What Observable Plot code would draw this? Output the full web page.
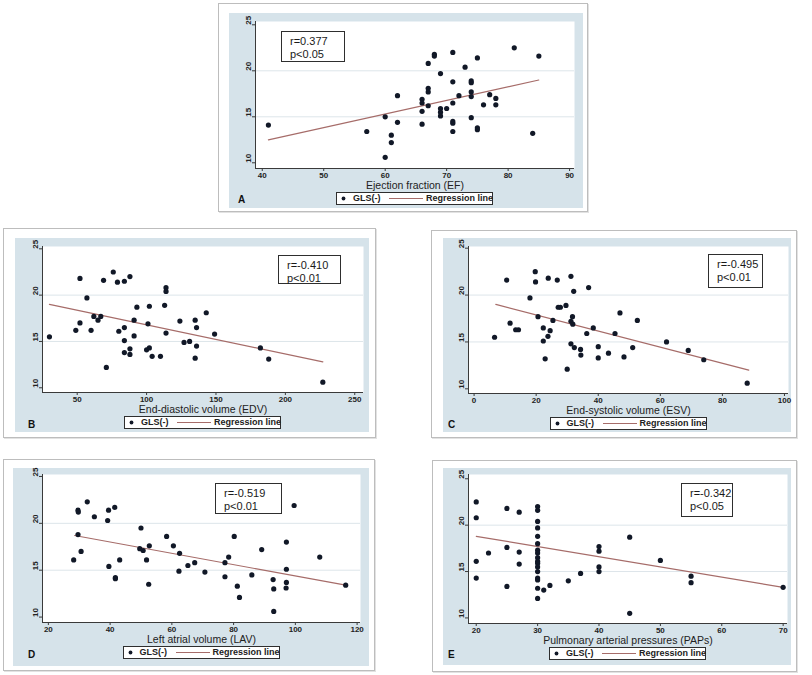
<!DOCTYPE html>
<html><head><meta charset="utf-8">
<script src="https://cdn.jsdelivr.net/npm/d3@7"></script>
<script src="https://cdn.jsdelivr.net/npm/@observablehq/plot@0.6"></script>
<style>
body{margin:0;background:#fff;font-family:"Liberation Sans",Arial,sans-serif;}
#root{position:relative;width:812px;height:675px;overflow:hidden;background:#fff;}
.outer{position:absolute;border:1px solid #bdbdbd;box-sizing:border-box;background:#fff;box-shadow:1px 1px 0 #e2e2e2;}
.blue{position:absolute;background:#d6e3ea;}
.blue svg{background:transparent !important;display:block;}
.ann{position:absolute;border:1.5px solid #2e2e2e;background:#fff;box-sizing:border-box;font-size:11px;line-height:12.5px;padding:3px 0 0 8px;color:#1a1a1a;white-space:nowrap;}
.leg{position:absolute;border:1.3px solid #2e2e2e;background:#fff;box-sizing:border-box;width:157px;height:13px;font-size:9px;font-weight:bold;color:#222;}
.leg span{position:absolute;top:0px;line-height:11px;white-space:nowrap;}
.leg svg{position:absolute;left:0;top:0;}
.letter{position:absolute;font-size:10px;font-weight:bold;color:#111;line-height:10px;}
</style></head><body><div id="root"></div>
<script>
// ---------- data ----------
const yTickValues = [10, 15, 20, 25];
const gridValues = [15, 20];
const seriesLabel = "GLS(-)";
const fitLabel = "Regression line";

// Panel A: Ejection fraction
const efValues = [41,57,60,60,61,61,62,62,66,66,66,66,67,67,67,67,68,68,69,69,69,69,70,71,71,71,71,71,71,72,73,74,74,74,74,74,75,75,75,76,77,78,78,81,84,85];
const glsA = [14.1,13.4,15.0,10.6,13.0,12.2,17.3,14.4,16.9,16.5,15.6,14.2,20.8,18.1,17.7,16.2,21.8,21.6,19.7,15.9,15.5,15.1,15.9,22.0,18.8,16.5,14.5,14.3,13.4,17.3,20.4,18.9,18.7,17.7,17.2,14.9,21.4,13.8,13.6,16.3,17.4,17.0,16.3,22.5,13.2,21.6];
const fitAx = [41, 85], fitAy = [12.5, 19.0];
const ticksA = [40,50,60,70,80,90];

// Panel B: End-diastolic volume
const edvValues = [30,49,52,52,57,60,62,65,67,69,71,76,79,80,84,84,84,84,88,88,88,91,91,93,100,101,102,102,104,110,113,114,114,114,124,127,131,135,135,136,136,143,149,182,188,227];
const glsB = [15.5,16.2,21.8,17.0,19.7,16.2,17.7,17.3,17.7,21.6,12.2,22.5,21.4,16.1,16.5,15.1,21.5,13.8,22.0,14.2,13.6,17.3,15.6,18.7,14.1,16.9,18.8,14.3,13.4,13.4,18.9,20.8,20.4,15.9,17.2,14.9,15.0,17.3,13.2,16.5,14.5,18.1,15.8,14.3,13.1,10.6];
const fitBx = [30, 227], fitBy = [19.0, 12.8];
const ticksB = [50,100,150,200,250];

// Panel C: End-systolic volume
const esvValues = [6.6,10.5,11.6,13.4,14.3,18,19.7,19.8,20.6,22.3,22.3,22.9,23.8,23.9,24.5,25.4,26.8,27.1,27.8,29.6,30,31.2,31.2,31.2,31.7,31.8,32.1,32.3,34.3,34.4,36.3,36.9,38.4,40,40,43.3,45.4,47,48.3,51.1,52.6,62,69,74,88];
const glsC = [15.5,21.6,17.0,16.3,16.3,19.7,22.5,21.4,17.7,16.5,15.1,13.2,15.6,21.8,16.2,17.3,21.6,18.7,18.7,18.9,12.1,22.0,17.2,14.8,17.7,16.9,20.4,14.4,14.2,13.6,15.9,20.8,16.5,14.5,13.3,13.8,15.9,18.1,13.4,14.4,17.3,15.0,14.1,13.1,10.6];
const fitCx = [7, 88.5], fitCy = [19.0, 12.0];
const ticksC = [0,20,40,60,80,100];

// Panel D: Left atrial volume
const lavValues = [28.2,29.6,29.7,29.6,30.6,32.6,34.9,39.2,39.5,39.6,41.5,41.7,41.7,43.1,50,49.6,50.7,51.8,52.7,52.5,58.3,60.5,62.5,62.3,65.2,67.4,70.7,77.2,77.2,78.4,80.2,81.2,81.9,85.9,89.1,92.8,93,93,97.1,97.1,97.1,97,99.6,107.9,116.3];
const glsD = [16.1,21.4,21.2,18.8,17.0,22.3,20.7,20.3,21.4,15.4,21.7,14.2,14.1,16.1,19.5,17.3,17.1,16.1,17.6,13.5,18.6,17.6,16.8,14.9,15.5,15.8,14.8,15.8,14.3,16.4,18.6,13.3,12.1,14.5,17.2,14.0,13.0,10.6,18.0,15.1,13.7,13.1,21.9,16.4,13.4];
const fitDx = [28.5, 116.3], fitDy = [18.7, 13.4];
const ticksD = [20,40,60,80,100,120];

// Panel E: Pulmonary arterial pressures
const papsValues = [20,20,20,20,22,25,25,25,27,27,27,30,30,30,30,30,30,30,30,30,30,30,30,30,30,30,30,30,31,32,35,37,40,40,40,40,45,45,50,55,55,70];
const glsE = [22.5,20.8,16.1,14.3,17.0,21.8,17.6,13.4,21.4,17.1,15.8,22.0,21.6,20.4,19.7,18.8,18.0,17.3,17.0,16.5,16.1,15.9,15.5,15.0,14.3,14.1,13.2,12.1,13.0,13.5,14.0,14.8,17.7,17.2,15.5,15.0,18.7,10.5,16.2,14.5,13.8,13.3];
const fitEx = [20, 70], fitEy = [18.8, 13.3];
const ticksE = [20,30,40,50,60,70];

const titles = ["Ejection fraction (EF)", "End-diastolic volume (EDV)", "End-systolic volume (ESV)", "Left atrial volume (LAV)", "Pulmonary arterial pressures (PAPs)"];
const letters = ["A", "B", "C", "D", "E"];
const rTexts = ["r=0.377", "r=-0.410", "r=-0.495", "r=-0.519", "r=-0.342"];
const pTexts = ["p<0.05", "p<0.01", "p<0.01", "p<0.01", "p<0.05"];

// ---------- layout (page pixels) ----------
const layout = [
  {outer:[218,3,588,212], blue:[229,13,583,208], frame:[255,21,574,168], xDom:[38.9,90.8], yDom:[9.38,25.36], ann:[281,31,345,62], letter:[238,195]},
  {outer:[3,228,376,438], blue:[15,238,369,432], frame:[42,246,363,392], xDom:[25.0,256.3], yDom:[9.49,25.25], ann:[278,255,341,284], letter:[28,420]},
  {outer:[431,230,797,438], blue:[443,238,791,432], frame:[468,246,788,393], xDom:[-1.8,101.3], yDom:[9.5,25.18], ann:[708,254,763,288], letter:[448,420]},
  {outer:[3,459,375,671], blue:[13,468,369,666], frame:[42,474,360,622], xDom:[18.1,121.1], yDom:[9.42,25.21], ann:[215,483,282,514], letter:[28,650]},
  {outer:[432,460,797,672], blue:[443,468,791,665], frame:[468,474,787,623], xDom:[18.74,70.71], yDom:[9.4,25.46], ann:[681,483,733,517], letter:[448,650]}
];
const series = [
  {xs: efValues, ys: glsA, fx: fitAx, fy: fitAy, ticks: ticksA},
  {xs: edvValues, ys: glsB, fx: fitBx, fy: fitBy, ticks: ticksB},
  {xs: esvValues, ys: glsC, fx: fitCx, fy: fitCy, ticks: ticksC},
  {xs: lavValues, ys: glsD, fx: fitDx, fy: fitDy, ticks: ticksD},
  {xs: papsValues, ys: glsE, fx: fitEx, fy: fitEy, ticks: ticksE}
];

const DOT = "#111827", FIT = "#a66c69", AXIS = "#3a3a3a", GRID = "#dde5ea";
const root = document.getElementById("root");

function box(cls, r) {
  const d = document.createElement("div");
  d.className = cls;
  d.style.left = r[0] + "px"; d.style.top = r[1] + "px";
  d.style.width = (r[2] - r[0]) + "px"; d.style.height = (r[3] - r[1]) + "px";
  root.appendChild(d);
  return d;
}

layout.forEach((L, i) => {
  const S = series[i];
  box("outer", L.outer);
  const blue = box("blue", L.blue);
  const W = L.blue[2] - L.blue[0], H = L.blue[3] - L.blue[1];
  const pts = S.xs.map((x, k) => ({x, y: S.ys[k]}));
  const fit = S.fx.map((x, k) => ({x, y: S.fy[k]}));
  const chart = Plot.plot({
    width: W, height: H,
    marginLeft: L.frame[0] - L.blue[0], marginTop: L.frame[1] - L.blue[1],
    marginRight: L.blue[2] - L.frame[2], marginBottom: L.blue[3] - L.frame[3],
    x: {domain: L.xDom}, y: {domain: L.yDom},
    style: {background: "transparent", fontFamily: "'Liberation Sans', Arial, sans-serif", color: "#222", overflow: "visible"},
    marks: [
      Plot.frame({fill: "white", stroke: "none"}),
      Plot.gridY(gridValues, {stroke: GRID, strokeOpacity: 1}),
      Plot.ruleX([L.xDom[0]], {stroke: AXIS}),
      Plot.ruleY([L.yDom[0]], {stroke: AXIS}),
      Plot.axisX(S.ticks, {tickSize: 3, tickPadding: 1, fontSize: 8, fontWeight: "bold", label: null, stroke: AXIS}),
      Plot.axisY(yTickValues, {tickSize: 3, tickFormat: () => "", label: null, stroke: AXIS}),
      Plot.text(yTickValues, {y: d => d, text: d => String(d), frameAnchor: "left", dx: -7, rotate: -90, fontSize: 8, fontWeight: "bold"}),
      Plot.text([titles[i]], {text: d => d, frameAnchor: "bottom", lineAnchor: "middle", dy: 17.5, fontSize: 10.5}),
      Plot.line(fit, {x: "x", y: "y", stroke: FIT, strokeWidth: 1.2}),
      Plot.dot(pts, {x: "x", y: "y", r: 2.6, fill: DOT, stroke: "none"})
    ]
  });
  blue.appendChild(chart);

  // r / p annotation
  const a = box("ann", L.ann);
  a.innerHTML = rTexts[i] + "<br>" + pTexts[i];

  // legend
  const fc = (L.frame[0] + L.frame[2]) / 2;
  const lg = document.createElement("div");
  lg.className = "leg";
  lg.style.left = (fc - 78.5) + "px";
  lg.style.top = (L.frame[3] + 23.5) + "px";
  lg.innerHTML = `<svg width="157" height="12"><circle cx="6.5" cy="5.5" r="1.9" fill="${DOT}"/><line x1="52" x2="86" y1="5.5" y2="5.5" stroke="${FIT}" stroke-width="1.2"/></svg>` +
    `<span style="left:16px">${seriesLabel}</span><span style="left:89px">${fitLabel}</span>`;
  root.appendChild(lg);

  // panel letter
  const t = document.createElement("div");
  t.className = "letter";
  t.style.left = L.letter[0] + "px"; t.style.top = L.letter[1] + "px";
  t.textContent = letters[i];
  root.appendChild(t);
});
</script>
</body></html>
